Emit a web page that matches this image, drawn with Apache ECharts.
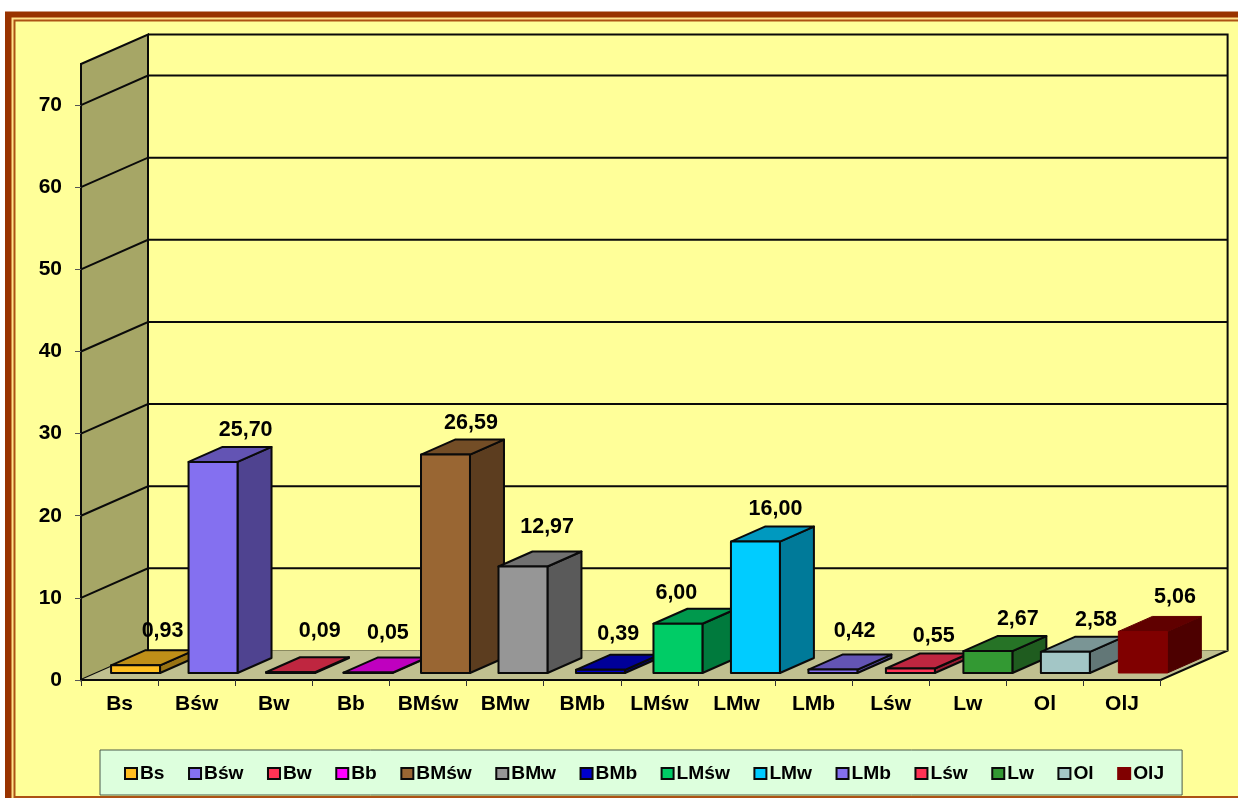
<!DOCTYPE html>
<html>
<head>
<meta charset="utf-8">
<style>
    html, body { margin: 0; padding: 0; background: #fff; }
    #chart { width: 1238px; height: 798px; }
</style>
<script src="https://cdn.jsdelivr.net/npm/echarts@6/dist/echarts.min.js"></script>
</head>
<body>
<div id="chart"></div>
<script>
const categories = ['Bs', 'Bśw', 'Bw', 'Bb', 'BMśw', 'BMw', 'BMb', 'LMśw', 'LMw', 'LMb', 'Lśw', 'Lw', 'Ol', 'OlJ'];
const values = [0.93, 25.70, 0.09, 0.05, 26.59, 12.97, 0.39, 6.00, 16.00, 0.42, 0.55, 2.67, 2.58, 5.06];
const valueLabels = ['0,93', '25,70', '0,09', '0,05', '26,59', '12,97', '0,39', '6,00', '16,00', '0,42', '0,55', '2,67', '2,58', '5,06'];
const yTicks = [0, 10, 20, 30, 40, 50, 60, 70];

const barColors = ['#FFBF20', '#8470F0', '#FF3355', '#FF00FF', '#996633', '#969696', '#0000CC',
    '#00CC66', '#00CCFF', '#8470F0', '#FF3355', '#339933', '#A3C6C6', '#800000'];
// where excel dropped each data label, relative to the category centre / bar top
const labelNudge = [[26, -34], [32, -32], [29, -41], [20, -40], [26, -32], [25, -39], [19, -36],
    [0, -31], [22, -33], [24, -38], [26, -32], [33, -32], [34, -32], [36, -34]];

const FONT = '"Liberation Sans", Arial, sans-serif';
const WALL_DX = 67, WALL_DY = -29.5;   // full depth of the box
const BAR_DX = 34, BAR_DY = -15;       // depth of one bar
const BAR_X = 16, BAR_Y = -7;          // bar sits a bit behind the front edge
const BAR_DRIFT = 0.37;                // bars spread slightly wider than the ticks
const LINE = '#0a0a0a';

function shade(hex, f) {
    const n = parseInt(hex.slice(1), 16);
    const c = [n >> 16, (n >> 8) & 255, n & 255].map(v => Math.round(v * f));
    return 'rgb(' + c.join(',') + ')';
}

function renderWalls(params, api) {
    const step = api.size([1, 0])[0];
    const x0 = api.coord([0, 0])[0] - step / 2;
    const x1 = api.coord([categories.length - 1, 0])[0] + step / 2;
    const y0 = api.coord([0, 0])[1];
    const yTop = api.coord([0, 75])[1];
    const lineStyle = {stroke: LINE, lineWidth: 2, fill: null};
    return {
        type: 'group',
        children: [
            {
                type: 'polygon',
                shape: {points: [[x0, y0], [x0 + WALL_DX, y0 + WALL_DY], [x0 + WALL_DX, yTop + WALL_DY], [x0, yTop]]},
                style: {fill: '#A6A666', stroke: LINE, lineWidth: 2}
            },
            {
                type: 'polygon',
                shape: {points: [[x0, y0], [x1, y0], [x1 + WALL_DX, y0 + WALL_DY], [x0 + WALL_DX, y0 + WALL_DY]]},
                style: {fill: '#C0C090'}
            },
            {
                type: 'polyline',
                shape: {points: [[x0 + WALL_DX, yTop + WALL_DY], [x1 + WALL_DX, yTop + WALL_DY], [x1 + WALL_DX, y0 + WALL_DY], [x1, y0], [x0, y0]]},
                style: lineStyle
            }
        ]
    };
}

function renderGridLine(params, api) {
    const step = api.size([1, 0])[0];
    const p = api.coord([0, api.value(1)]);
    const x0 = p[0] - step / 2;
    const x1 = api.coord([categories.length - 1, 0])[0] + step / 2;
    // the 0 line is the floor edge, the other ones run over left wall and back wall
    if (api.value(1) === 0) {
        return {
            type: 'line',
            shape: {x1: x0 + WALL_DX, y1: p[1] + WALL_DY, x2: x1 + WALL_DX, y2: p[1] + WALL_DY},
            style: {stroke: '#8a8a60', lineWidth: 1}
        };
    }
    return {
        type: 'polyline',
        shape: {points: [[x0, p[1]], [x0 + WALL_DX, p[1] + WALL_DY], [x1 + WALL_DX, p[1] + WALL_DY]]},
        style: {stroke: LINE, lineWidth: 2, fill: null}
    };
}

function renderBar(params, api) {
    const i = api.value(0);
    const base = api.coord([i, 0]);
    const top = api.coord([i, api.value(1)]);
    const w = api.size([1, 0])[0] * 0.635;
    const left = base[0] + BAR_X + BAR_DRIFT * i - w / 2;
    const right = left + w;
    const yb = base[1] + BAR_Y;
    const yt = top[1] + BAR_Y;
    const color = barColors[i];
    const noEdge = i === 13;   // the last bar has no black outline
    const z2 = i + 1;
    const face = (points, fill) => ({
        type: 'polygon',
        z2: z2,
        shape: {points: points},
        style: {fill: fill, stroke: noEdge ? fill : LINE, lineWidth: noEdge ? 1 : 2, lineJoin: 'round'}
    });
    return {
        type: 'group',
        children: [
            face([[right, yb], [right + BAR_DX, yb + BAR_DY], [right + BAR_DX, yt + BAR_DY], [right, yt]], shade(color, 0.6)),
            face([[left, yt], [right, yt], [right + BAR_DX, yt + BAR_DY], [left + BAR_DX, yt + BAR_DY]], shade(color, 0.75)),
            face([[left, yb], [right, yb], [right, yt], [left, yt]], color),
            {
                type: 'text',
                z2: 100,
                style: {
                    x: base[0] + 17 + labelNudge[i][0],
                    y: yt + labelNudge[i][1],
                    text: valueLabels[i],
                    align: 'center',
                    verticalAlign: 'middle',
                    fill: '#000',
                    font: 'bold 21.5px ' + FONT
                }
            }
        ]
    };
}

const barSeries = categories.map((name, i) => ({
    name: name,
    type: 'custom',
    z: 3,
    renderItem: renderBar,
    data: [[i, values[i]]]
}));

const chart = echarts.init(document.getElementById('chart'));
chart.setOption({
    animation: false,
    backgroundColor: '#fff',
    graphic: {
        elements: [
            {type: 'rect', z: -10, shape: {x: 5, y: 11.5, width: 1233, height: 787}, style: {fill: '#993300'}},
            {type: 'rect', z: -9, shape: {x: 11.5, y: 17.5, width: 1227, height: 781}, style: {fill: '#FFE28A'}},
            {type: 'rect', z: -8, shape: {x: 13.5, y: 19.5, width: 1225, height: 778.5}, style: {fill: '#AD5214'}},
            {type: 'rect', z: -7, shape: {x: 15.5, y: 21.5, width: 1223, height: 774.5}, style: {fill: '#FFFF99'}}
        ]
    },
    grid: {left: 81, top: 64, width: 1079.6, height: 616},
    legend: {
        left: 100,
        top: 750,
        orient: 'horizontal',
        width: 1120,
        padding: [14, 18, 12, 24],
        backgroundColor: '#DDFFDD',
        borderColor: '#4a5a4a',
        borderWidth: 1,
        borderRadius: 0,
        itemWidth: 12,
        itemHeight: 11,
        itemGap: 23.5,
        selectedMode: false,
        textStyle: {color: '#000', fontWeight: 'bold', fontSize: 19.2, fontFamily: FONT, padding: [0, 0, 0, -2]},
        data: categories.map((name, i) => ({
            name: name,
            icon: 'rect',
            itemStyle: {color: barColors[i], borderColor: i === 13 ? barColors[i] : LINE, borderWidth: 2}
        }))
    },
    xAxis: {
        type: 'category',
        data: categories,
        z: 4,
        axisLine: {lineStyle: {color: LINE, width: 2}},
        axisTick: {show: true, alignWithLabel: false, length: 6, lineStyle: {color: '#333', width: 1}},
        axisLabel: {color: '#000', fontWeight: 'bold', fontSize: 21, fontFamily: FONT, margin: 14, interval: 0},
        splitLine: {show: false}
    },
    yAxis: {
        type: 'value',
        min: 0,
        max: 75,
        interval: 10,
        z: 4,
        axisLine: {show: true, lineStyle: {color: LINE, width: 2}},
        axisTick: {show: true, length: 6, customValues: yTicks, lineStyle: {color: '#555', width: 1}},
        axisLabel: {color: '#000', fontWeight: 'bold', fontSize: 21, fontFamily: FONT, margin: 19, customValues: yTicks},
        splitLine: {show: false}
    },
    series: [
        {type: 'custom', z: 1, silent: true, renderItem: renderWalls, data: [[0, 0]]},
        {type: 'custom', z: 2, silent: true, renderItem: renderGridLine, data: yTicks.map(v => [0, v])}
    ].concat(barSeries)
});
</script>
</body>
</html>
